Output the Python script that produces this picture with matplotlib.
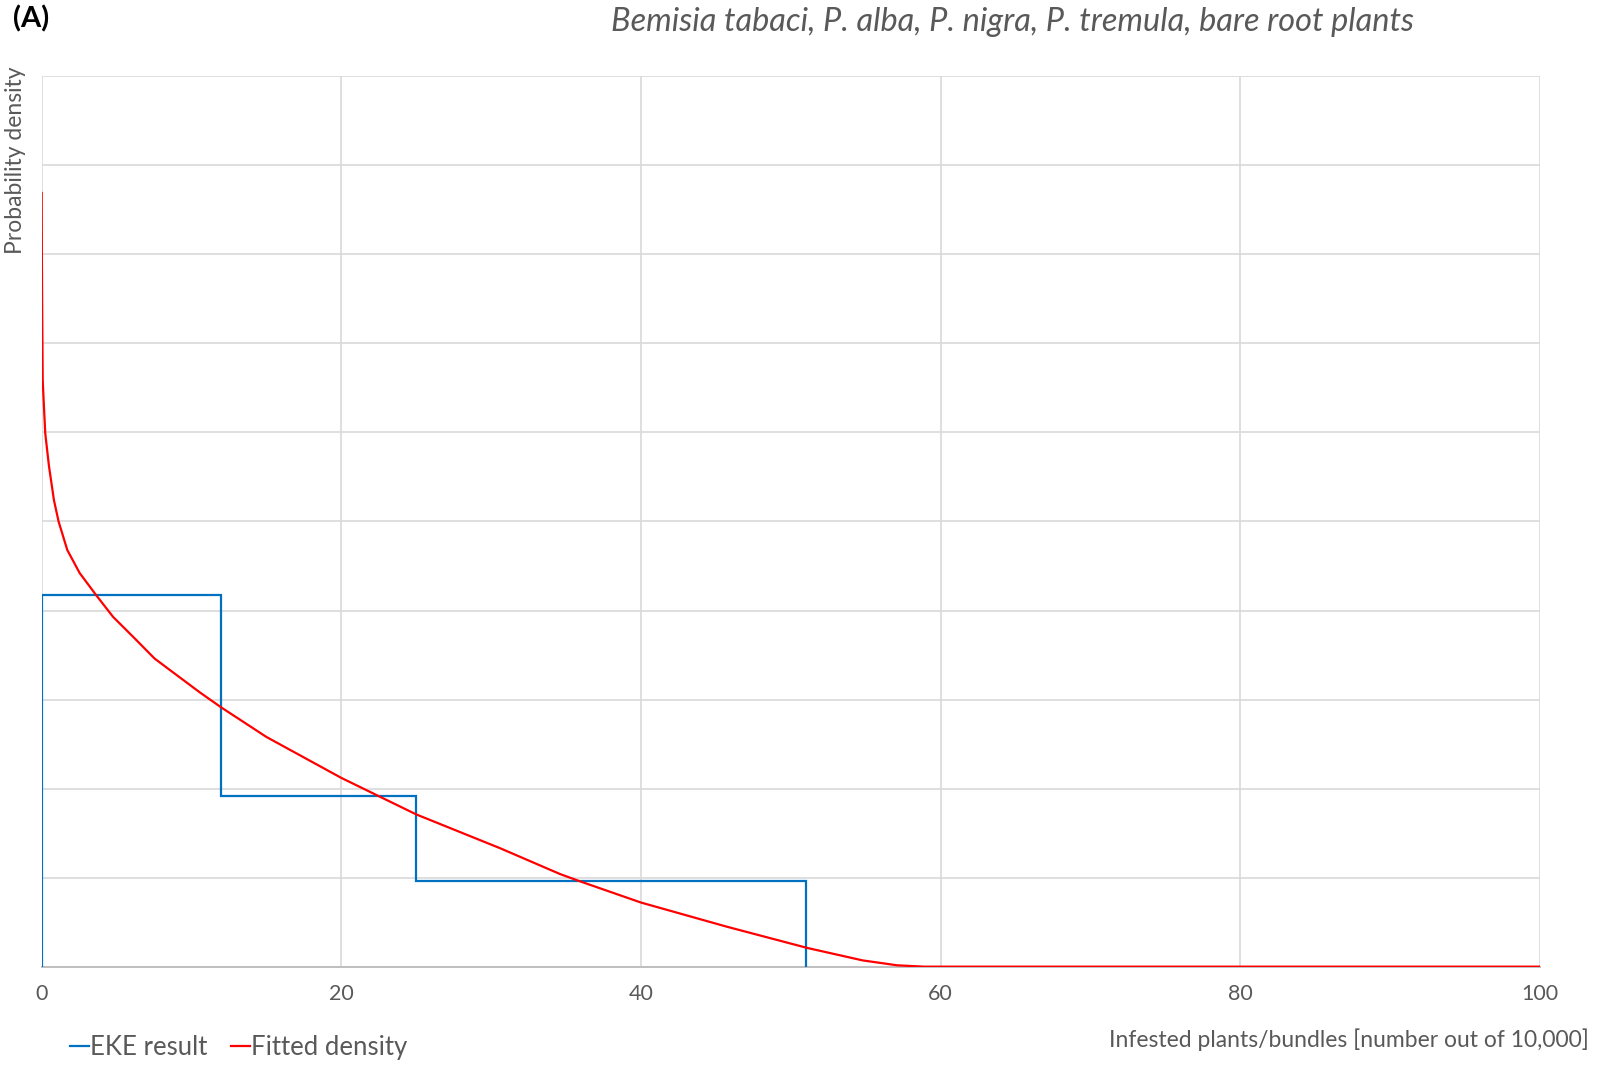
import numpy as np
import matplotlib
matplotlib.use('Agg')
import matplotlib.pyplot as plt
from matplotlib.lines import Line2D

# EKE result: piecewise-constant density (bin edges and heights)
eke_edges = [0, 12, 25, 51]
eke_heights = [0.0417, 0.0192, 0.0096]

# Fitted density
fit_x = [0, 0.015, 0.035, 0.07, 0.13, 0.24, 0.49, 0.82, 1.13, 1.71, 2.54, 3.65,
         4.76, 6.25, 7.54, 10.56, 12, 15, 20, 25, 30.6, 34.6, 35.9, 40, 45.7,
         49.3, 51.1, 54.8, 57.1, 58.9, 100]
fit_y = [0.0869, 0.0800, 0.0740, 0.0659, 0.0637, 0.0599, 0.0562, 0.0524, 0.0500,
         0.0468, 0.0442, 0.0417, 0.0393, 0.0368, 0.0346, 0.0308, 0.0291, 0.0258,
         0.0212, 0.0171, 0.0133, 0.0104, 0.0096, 0.0072, 0.0045, 0.0029, 0.0021,
         0.0007, 0.00015, 0.0, 0.0]

xticks = [0, 20, 40, 60, 80, 100]

title = 'Bemisia tabaci, P. alba, P. nigra, P. tremula, bare root plants'
xlabel = 'Infested plants/bundles [number out of 10,000]'
ylabel = 'Probability density'

plt.rcParams['font.family'] = ['Lato', 'DejaVu Sans']
grey = '#595959'
blue = '#0070C0'
red = '#FF0000'

fig = plt.figure(figsize=(16.02, 10.66), dpi=100)
ax = fig.add_axes([0.026, 0.0932, 0.9353, 0.8352])

ax.stairs(eke_heights, eke_edges, baseline=0, color=blue, lw=1.6, zorder=3)
ax.plot(fit_x, fit_y, color=red, lw=1.6, zorder=4)

ax.set_xlim(0, 100)
ax.set_ylim(0, 0.1)
ax.set_xticks(xticks)
ax.set_xticklabels([str(t) for t in xticks])
ax.set_yticks(np.arange(0, 0.1001, 0.01))
ax.set_yticklabels([])
ax.tick_params(axis='both', length=0, colors=grey, labelsize=15.5)
ax.tick_params(axis='x', pad=12.5)
ax.grid(True, color='#d9d9d9', lw=1.2, zorder=0)
ax.set_axisbelow(True)
for s in ['top', 'right', 'left']:
    ax.spines[s].set_visible(False)
ax.spines['bottom'].set_color('#bfbfbf')
ax.spines['bottom'].set_linewidth(1.4)

fig.text(0.008, 0.982, '(A)', fontsize=21, fontweight='bold', color='black',
         ha='left', va='center')
fig.text(0.632, 0.979, title, fontsize=23.4, style='italic', color=grey,
         ha='center', va='center')
fig.text(0.0096, 0.850, ylabel, fontsize=16.5, color=grey, rotation=90,
         ha='center', va='center')
fig.text(0.992, 0.025, xlabel, fontsize=16.5, color=grey, ha='right', va='center')

handles = [Line2D([], [], color=blue, lw=1.6), Line2D([], [], color=red, lw=1.6)]
fig.legend(handles, ['EKE result', 'Fitted density'], loc='center left',
           bbox_to_anchor=(0.0434, 0.017), ncol=2, frameon=False, fontsize=18.5,
           handlelength=0.75, handletextpad=0.05, columnspacing=0.9,
           labelcolor=grey, borderpad=0, borderaxespad=0)

fig.savefig('out.png', dpi=100)
